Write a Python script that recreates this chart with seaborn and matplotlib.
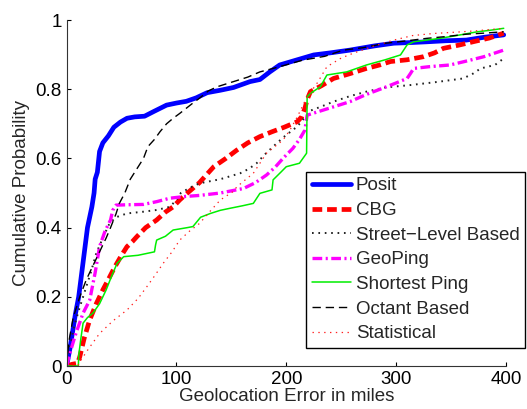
import numpy as np
import pandas as pd
import seaborn as sns
import matplotlib
matplotlib.use('Agg')
import matplotlib.pyplot as plt

# CDF curves (error in miles, cumulative probability)
posit_x = [0, 3, 8, 11, 15, 19, 23, 25, 26, 28, 30, 33, 38, 43, 49, 55, 62, 71, 79, 91, 100, 109, 118,
           128, 140, 152, 167, 176, 185, 194, 210, 225, 240, 258, 280, 298, 315, 328, 345, 364, 380, 398]
posit_y = [0, 0.05, 0.15, 0.2, 0.3, 0.4, 0.46, 0.5, 0.54, 0.56, 0.62, 0.645, 0.665, 0.69, 0.705, 0.716,
           0.72, 0.722, 0.735, 0.754, 0.76, 0.765, 0.775, 0.79, 0.797, 0.805, 0.822, 0.828, 0.85, 0.87,
           0.885, 0.899, 0.905, 0.913, 0.925, 0.933, 0.935, 0.937, 0.94, 0.942, 0.95, 0.957]

cbg_x = [0, 5, 10, 12, 16, 21, 27, 33, 38, 44, 50, 55, 60, 64, 72, 82, 90, 97, 103, 110, 121, 128, 134,
         145, 155, 165, 176, 187, 198, 210, 214, 217, 219, 222, 232, 243, 258, 273, 285, 295, 310, 325,
         335, 343, 358, 370, 385, 398]
cbg_y = [0, 0.005, 0.008, 0.027, 0.08, 0.133, 0.18, 0.22, 0.25, 0.287, 0.32, 0.345, 0.36, 0.374, 0.4,
         0.422, 0.445, 0.46, 0.48, 0.5, 0.53, 0.555, 0.576, 0.6, 0.624, 0.645, 0.663, 0.677, 0.69, 0.706,
         0.72, 0.745, 0.77, 0.793, 0.81, 0.831, 0.845, 0.86, 0.87, 0.88, 0.885, 0.894, 0.905, 0.918,
         0.928, 0.937, 0.948, 0.962]

street_x = [0, 3, 6, 11, 17, 22, 27, 33, 39, 45, 55, 70, 82, 94, 100, 104, 112, 121, 140, 158, 166, 173,
            180, 188, 197, 205, 210, 216, 222, 232, 243, 258, 273, 290, 313, 335, 361, 370, 377, 390, 398]
street_y = [0, 0.05, 0.104, 0.16, 0.22, 0.27, 0.326, 0.37, 0.412, 0.43, 0.441, 0.446, 0.451, 0.46, 0.48,
            0.5, 0.515, 0.528, 0.54, 0.557, 0.57, 0.586, 0.61, 0.634, 0.66, 0.68, 0.692, 0.715, 0.738,
            0.75, 0.764, 0.78, 0.793, 0.805, 0.812, 0.82, 0.831, 0.845, 0.86, 0.87, 0.889]

geoping_x = [0, 3, 8, 15, 21, 26, 30, 35, 40, 42, 45, 55, 70, 82, 94, 108, 121, 140, 161, 172, 182, 190,
             197, 206, 212, 217, 219, 224, 234, 246, 258, 273, 288, 300, 310, 313, 316, 330, 349, 365,
             380, 398]
geoping_y = [0, 0.037, 0.09, 0.153, 0.19, 0.27, 0.345, 0.39, 0.422, 0.45, 0.465, 0.466, 0.467, 0.475,
             0.485, 0.49, 0.493, 0.5, 0.513, 0.53, 0.552, 0.575, 0.6, 0.629, 0.655, 0.682, 0.725, 0.73,
             0.74, 0.752, 0.764, 0.785, 0.803, 0.818, 0.831, 0.845, 0.86, 0.865, 0.87, 0.882, 0.894, 0.913]

shortest_x = [0, 10.7, 11, 13, 15, 19, 24, 30, 36, 41, 46, 52, 65, 80, 81, 82, 90, 97, 110, 115, 122,
              131, 140, 149, 160, 170, 176, 187, 188, 195, 200, 212, 218.5, 219, 222, 231, 237, 255,
              273, 290, 304, 310, 316, 340, 355, 374, 385, 398]
shortest_y = [0, 0, 0.03, 0.08, 0.124, 0.14, 0.153, 0.18, 0.22, 0.26, 0.297, 0.316, 0.32, 0.33, 0.35,
              0.364, 0.375, 0.393, 0.4, 0.403, 0.43, 0.441, 0.45, 0.456, 0.463, 0.47, 0.499, 0.509,
              0.538, 0.56, 0.576, 0.586, 0.615, 0.778, 0.788, 0.807, 0.841, 0.85, 0.87, 0.885, 0.899,
              0.928, 0.937, 0.947, 0.955, 0.966, 0.97, 0.976]

octant_x = [0, 2, 6, 12, 18, 24, 30, 36, 40, 45, 48, 53, 58, 64, 70, 74, 80, 85, 91, 97, 103, 109, 115,
            121, 129, 137, 150, 165, 176, 194, 215, 235, 252, 270, 291, 310, 328, 345, 364, 380, 398]
octant_y = [0, 0.07, 0.14, 0.2, 0.25, 0.29, 0.33, 0.37, 0.40, 0.44, 0.47, 0.5, 0.54, 0.57, 0.6, 0.634,
            0.655, 0.677, 0.7, 0.716, 0.73, 0.745, 0.76, 0.774, 0.795, 0.807, 0.82, 0.835, 0.85, 0.865,
            0.884, 0.895, 0.913, 0.92, 0.933, 0.94, 0.947, 0.952, 0.959, 0.962, 0.966]

stat_x = [0, 10, 12, 20, 30, 42, 55, 65, 73, 80, 88, 96, 103, 112, 121, 130, 140, 152, 155, 170, 182,
          197, 203, 210, 219, 228, 237, 250, 261, 280, 298, 315, 334, 355, 370, 398]
stat_y = [0, 0, 0.012, 0.05, 0.094, 0.13, 0.162, 0.195, 0.229, 0.26, 0.297, 0.33, 0.364, 0.39, 0.412,
          0.445, 0.48, 0.505, 0.518, 0.557, 0.615, 0.653, 0.68, 0.72, 0.778, 0.817, 0.865, 0.89, 0.904,
          0.925, 0.942, 0.955, 0.961, 0.965, 0.968, 0.976]

sns.set_style('ticks')
plt.rcParams['font.family'] = ['Liberation Sans', 'DejaVu Sans']
plt.rcParams['lines.scale_dashes'] = False
plt.rcParams['xtick.direction'] = 'in'
plt.rcParams['ytick.direction'] = 'in'

fig = plt.figure(figsize=(5.27, 4.09), dpi=100)
ax = fig.add_axes([0.1264, 0.1051, 0.8336, 0.8460])

# (label, x, y, color, linewidth, linestyle)
series = [
    ('Posit', posit_x, posit_y, '#0000ff', 3.4, '-'),
    ('CBG', cbg_x, cbg_y, '#ff0000', 3.4, (0, (7, 3.5))),
    ('Street\u2212Level Based', street_x, street_y, '#222222', 1.4, (0, (1.2, 3.4))),
    ('GeoPing', geoping_x, geoping_y, '#ff00ff', 2.4, (0, (7, 2.5, 1.5, 2.5))),
    ('Shortest Ping', shortest_x, shortest_y, '#00ee00', 1.1, '-'),
    ('Octant Based', octant_x, octant_y, '#000000', 1.0, (0, (6, 3.5))),
    ('Statistical', stat_x, stat_y, '#ff2020', 0.9, (0, (1, 3.2))),
]

for label, xs, ys, col, lw, ls in series:
    sns.lineplot(x=xs, y=ys, ax=ax, color=col, linewidth=lw, linestyle=ls,
                 label=label, sort=False, estimator=None)

ax.set_xlim(0, 400)
ax.set_ylim(0, 1)
ax.set_xticks([0, 100, 200, 300, 400])
ax.set_yticks([0, 0.2, 0.4, 0.6, 0.8, 1])
ax.set_yticklabels(['0', '0.2', '0.4', '0.6', '0.8', '1'])
ax.tick_params(labelsize=13.5, length=3, width=0.8, colors='black')
ax.set_xlabel('Geolocation Error in miles', fontsize=13.5, labelpad=0)
ax.set_ylabel('Cumulative Probability', fontsize=13.5, labelpad=4)
sns.despine(ax=ax)
for sp in ['left', 'bottom']:
    ax.spines[sp].set_color('#333333')
    ax.spines[sp].set_linewidth(0.8)

leg = ax.legend(loc='upper left', bbox_to_anchor=(0.545, 0.5615), borderaxespad=0,
                fontsize=13.5, handlelength=2.1, handletextpad=0.25, labelspacing=0.4,
                borderpad=0.3, fancybox=False, framealpha=1, edgecolor='black')
leg.get_frame().set_linewidth(1.0)

fig.savefig('out.png', dpi=100)
